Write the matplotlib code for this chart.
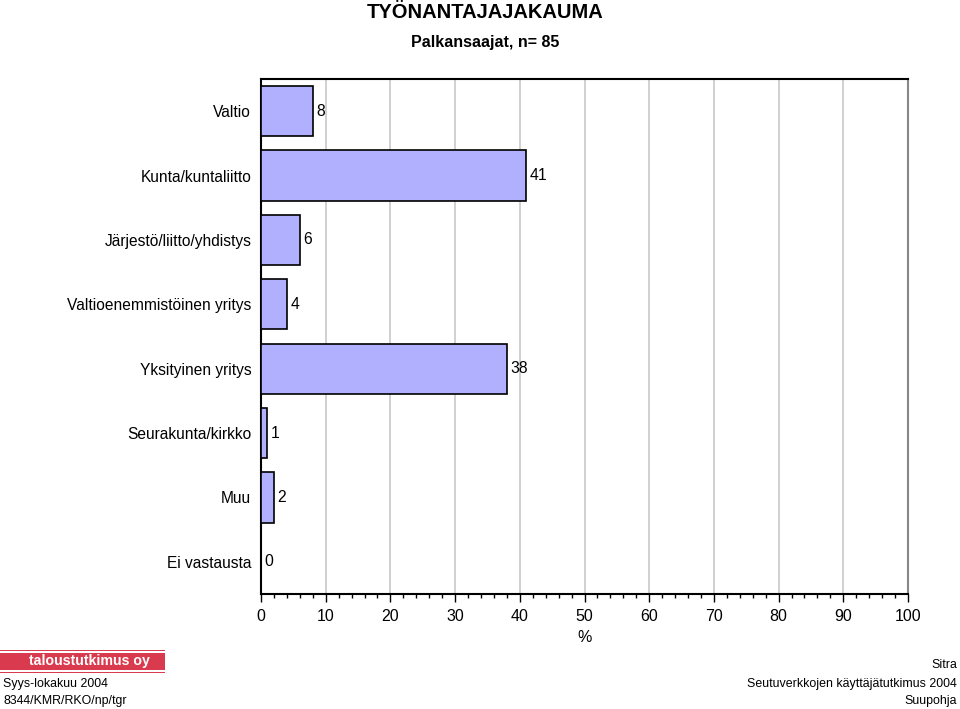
import matplotlib.pyplot as plt
import matplotlib.patches as mpatches
from matplotlib.ticker import MultipleLocator

# Data
categories = ['Valtio', 'Kunta/kuntaliitto', 'Järjestö/liitto/yhdistys',
              'Valtioenemmistöinen yritys', 'Yksityinen yritys',
              'Seurakunta/kirkko', 'Muu', 'Ei vastausta']
values = [8, 41, 6, 4, 38, 1, 2, 0]
xticks = [0, 10, 20, 30, 40, 50, 60, 70, 80, 90, 100]

plt.rcParams['font.family'] = ['Liberation Sans', 'DejaVu Sans']

fig = plt.figure(figsize=(9.6, 7.09), dpi=100)
ax = fig.add_axes([261/960, 1 - 594/709, 647/960, 515/709])

ypos = list(range(len(categories)))
ax.barh(ypos, values, height=0.78, color='#B0B0FF', edgecolor='black', linewidth=1.2, zorder=3)
for y, v in zip(ypos, values):
    ax.text(v + 0.55, y, str(v), va='center', ha='left', fontsize=11.3, zorder=4)

ax.set_ylim(len(categories) - 0.5, -0.5)
ax.set_xlim(0, 100)
ax.set_yticks(ypos)
ax.set_yticklabels(categories, fontsize=11.2)
ax.tick_params(axis='y', length=0, pad=7)
ax.set_xticks(xticks)
ax.set_xticklabels([str(t) for t in xticks], fontsize=11.5)
ax.xaxis.set_minor_locator(MultipleLocator(2))
ax.tick_params(axis='x', which='major', length=6, width=1, direction='out', pad=5)
ax.tick_params(axis='x', which='minor', length=3, width=1, direction='out')
ax.set_xlabel('%', fontsize=11.5, labelpad=4)

ax.grid(axis='x', which='major', color='#C8C8C8', linewidth=1.2, zorder=0)
ax.spines['left'].set_linewidth(1.5)
ax.spines['bottom'].set_linewidth(1.5)
ax.spines['top'].set_linewidth(1.5)
ax.spines['right'].set_color('#888888')
ax.spines['right'].set_linewidth(1.5)

fig.text(0.505, 1 - 12/709, 'TYÖNANTAJAJAKAUMA', ha='center', va='center',
         fontsize=14.5, fontweight='bold')
fig.text(0.505, 1 - 42/709, 'Palkansaajat, n= 85', ha='center', va='center',
         fontsize=11.5, fontweight='bold')

# logo
fig.patches.append(mpatches.Rectangle((0, 1 - 670/709), 165/960, 17/709,
                                      transform=fig.transFigure, facecolor='#D93A4E',
                                      edgecolor='none'))
fig.patches.append(mpatches.Rectangle((0, 1 - 673/709), 165/960, 1.2/709,
                                      transform=fig.transFigure, facecolor='#D93A4E',
                                      edgecolor='none'))
fig.patches.append(mpatches.Rectangle((0, 1 - 651/709), 165/960, 1.2/709,
                                      transform=fig.transFigure, facecolor='#D93A4E',
                                      edgecolor='none'))
fig.text(89/960, 1 - 661/709, 'taloustutkimus oy', ha='center', va='center',
         fontsize=10.2, fontweight='bold', color='white')

fig.text(3/960, 1 - 684/709, 'Syys-lokakuu 2004', ha='left', va='center', fontsize=8.9)
fig.text(3/960, 1 - 701/709, '8344/KMR/RKO/np/tgr', ha='left', va='center', fontsize=8.9)
fig.text(957/960, 1 - 665/709, 'Sitra', ha='right', va='center', fontsize=8.9)
fig.text(957/960, 1 - 684/709, 'Seutuverkkojen käyttäjätutkimus 2004', ha='right', va='center', fontsize=8.9)
fig.text(957/960, 1 - 701/709, 'Suupohja', ha='right', va='center', fontsize=8.9)

fig.savefig('out.png', dpi=100)
